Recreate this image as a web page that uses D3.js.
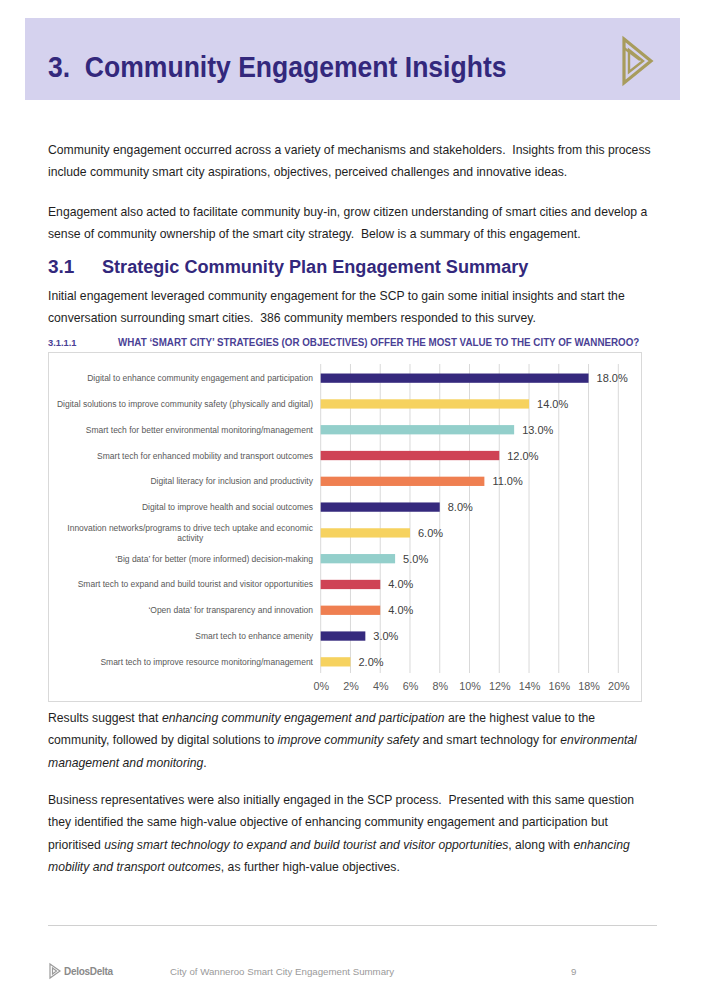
<!DOCTYPE html>
<html><head><meta charset="utf-8">
<script src="https://cdn.jsdelivr.net/npm/d3@7/dist/d3.min.js"></script>
<style>
html,body{margin:0;padding:0;background:#fff;}
svg text{white-space:pre;}
</style></head>
<body>
<svg id="page" width="705" height="1005"></svg>
<script>
// ---- data ----
const categories = [
  "Digital to enhance community engagement and participation",
  "Digital solutions to improve community safety (physically and digital)",
  "Smart tech for better environmental monitoring/management",
  "Smart tech for enhanced mobility and transport outcomes",
  "Digital literacy for inclusion and productivity",
  "Digital to improve health and social outcomes",
  "Innovation networks/programs to drive tech uptake and economic\nactivity",
  "\u2018Big data\u2019 for better (more informed) decision-making",
  "Smart tech to expand and build tourist and visitor opportunities",
  "\u2018Open data\u2019 for transparency and innovation",
  "Smart tech to enhance amenity",
  "Smart tech to improve resource monitoring/management"
];
const values = [18, 14, 13, 12, 11, 8, 6, 5, 4, 4, 3, 2];
const tickValues = [0, 2, 4, 6, 8, 10, 12, 14, 16, 18, 20];

const palette = ["#35297d", "#f6d25f", "#93cfcb", "#cf4355", "#ef7f51"];

const svg = d3.select("#page");
const FONT = "'Liberation Sans', Arial, sans-serif";
const K = 0.953; // horizontal compression of the document font
function squeeze(sel, x0, k) {
  sel.attr("transform", `translate(${x0},0) scale(${k},1) translate(${-x0},0)`);
  return sel;
}

// ---- header ----
svg.append("rect").attr("x", 25).attr("y", 18).attr("width", 655).attr("height", 82).attr("fill", "#d5d2ee");
squeeze(svg.append("text").attr("x", 48).attr("y", 77)
  .attr("font-family", FONT)
  .attr("font-weight", "bold").attr("font-size", 29.5).attr("fill", "#33287c")
  .text("3.  Community Engagement Insights"), 48, 0.9);

// logo
const logo = svg.append("g").attr("fill", "none").attr("stroke", "#a89c5d").attr("stroke-width", 3.2).attr("stroke-linejoin", "miter");
logo.append("path").attr("d", "M624,39 L651,61 L624,83 Z");
logo.append("path").attr("d", "M629,50 L643,61 L629,72 Z").attr("stroke-width", 2.4);
logo.append("path").attr("d", "M624,48 L640,60").attr("stroke-width", 2.2);

// ---- paragraphs ----
function para(lines, y0, lh) {
  lines.forEach((segs, i) => {
    const t = svg.append("text").attr("x", 48).attr("y", y0 + i * lh)
      .attr("font-family", FONT).attr("font-size", 12.8).attr("fill", "#1e1e1e");
    squeeze(t, 48, K);
    if (typeof segs === "string") segs = [[segs, false]];
    segs.forEach(([s, it]) => {
      t.append("tspan").attr("font-style", it ? "italic" : "normal").text(s);
    });
  });
}
para([
  "Community engagement occurred across a variety of mechanisms and stakeholders.  Insights from this process",
  "include community smart city aspirations, objectives, perceived challenges and innovative ideas."
], 154, 22.5);
para([
  "Engagement also acted to facilitate community buy-in, grow citizen understanding of smart cities and develop a",
  "sense of community ownership of the smart city strategy.  Below is a summary of this engagement."
], 216, 22.5);

svg.append("text").attr("x", 48).attr("y", 273).attr("font-family", FONT).attr("font-weight", "bold")
  .attr("font-size", 19).attr("fill", "#33287c").text("3.1");
squeeze(svg.append("text").attr("x", 102).attr("y", 273).attr("font-family", FONT).attr("font-weight", "bold")
  .attr("font-size", 19).attr("fill", "#33287c").text("Strategic Community Plan Engagement Summary"), 102, K);

para([
  "Initial engagement leveraged community engagement for the SCP to gain some initial insights and start the",
  "conversation surrounding smart cities.  386 community members responded to this survey."
], 300, 22.5);

squeeze(svg.append("text").attr("x", 48).attr("y", 346).attr("font-family", FONT).attr("font-weight", "bold")
  .attr("font-size", 9.8).attr("fill", "#4a3f95").text("3.1.1.1"), 48, K);
squeeze(svg.append("text").attr("x", 118).attr("y", 346).attr("font-family", FONT).attr("font-weight", "bold")
  .attr("font-size", 10.3).attr("fill", "#4a3f95").text("WHAT \u2018SMART CITY\u2019 STRATEGIES (OR OBJECTIVES) OFFER THE MOST VALUE TO THE CITY OF WANNEROO?"), 118, K);

// ---- chart ----
svg.append("rect").attr("x", 48.5).attr("y", 352.5).attr("width", 593).attr("height", 349)
  .attr("fill", "#fff").attr("stroke", "#d9d9d9").attr("stroke-width", 1);

const x = d3.scaleLinear().domain([0, 20]).range([320.7, 618.3]);
const y = d3.scaleBand().domain(categories).range([365, 675]).paddingInner(0.64).paddingOuter(0.33);

const chart = svg.append("g");
chart.append("g").selectAll("line").data(tickValues).join("line")
  .attr("x1", d => x(d)).attr("x2", d => x(d)).attr("y1", 364).attr("y2", 673)
  .attr("stroke", "#d9d9d9").attr("stroke-width", 1);

chart.append("g").selectAll("rect").data(categories).join("rect")
  .attr("x", x(0)).attr("y", d => y(d)).attr("height", y.bandwidth())
  .attr("width", (d, i) => x(values[i]) - x(0))
  .attr("fill", (d, i) => palette[i % palette.length]);

chart.append("g").selectAll("text").data(categories).join("text")
  .attr("x", (d, i) => x(values[i]) + 8).attr("y", d => y(d) + y.bandwidth() / 2 + 4)
  .attr("font-family", FONT).attr("font-size", 11).attr("fill", "#404040")
  .text((d, i) => values[i].toFixed(1) + "%");

// category labels
const labelG = chart.append("g").attr("font-family", FONT).attr("font-size", 8.5).attr("fill", "#595959");
categories.forEach(c => {
  const lines = c.split("\n");
  const cy = y(c) + y.bandwidth() / 2;
  if (lines.length === 1) {
    labelG.append("text").attr("x", 313).attr("y", cy + 3).attr("text-anchor", "end").text(c);
  } else {
    const t1 = labelG.append("text").attr("x", 313).attr("y", cy - 2).attr("text-anchor", "end").text(lines[0]);
    const w = t1.node().getComputedTextLength();
    labelG.append("text").attr("x", 313 - w / 2).attr("y", cy + 8).attr("text-anchor", "middle").text(lines[1]);
  }
});

const axis = d3.axisBottom(x).tickValues(tickValues).tickFormat(d => d + "%").tickSize(0).tickPadding(0);
const ag = chart.append("g").attr("transform", "translate(0,682)").call(axis);
ag.select(".domain").remove();
ag.selectAll("text").attr("font-family", FONT).attr("font-size", 10.8).attr("fill", "#595959").attr("dy", "0.71em");

// ---- paragraphs after chart ----
para([
  [["Results suggest that ", false], ["enhancing community engagement and participation", true], [" are the highest value to the", false]],
  [["community, followed by digital solutions to ", false], ["improve community safety", true], [" and smart technology for ", false], ["environmental", true]],
  [["management and monitoring", true], [".", false]]
], 722, 22.5);
para([
  "Business representatives were also initially engaged in the SCP process.  Presented with this same question",
  "they identified the same high-value objective of enhancing community engagement and participation but",
  [["prioritised ", false], ["using smart technology to expand and build tourist and visitor opportunities", true], [", along with ", false], ["enhancing", true]],
  [["mobility and transport outcomes", true], [", as further high-value objectives.", false]]
], 804, 22.5);

// ---- footer ----
svg.append("line").attr("x1", 48).attr("x2", 657).attr("y1", 925.5).attr("y2", 925.5).attr("stroke", "#d0d0d0").attr("stroke-width", 1.2);
const fl = svg.append("g").attr("fill", "none").attr("stroke", "#9a9a9a").attr("stroke-width", 1.2);
fl.append("path").attr("d", "M50,964 L60,971 L50,978 Z");
fl.append("path").attr("d", "M52.5,968 L56.5,971 L52.5,974 Z");
svg.append("text").attr("x", 64).attr("y", 974.5).attr("font-family", FONT).attr("font-weight", "bold")
  .attr("font-size", 10).attr("fill", "#8a8a8a").attr("letter-spacing", -0.3).text("DelosDelta");
svg.append("text").attr("x", 170).attr("y", 974.5).attr("font-family", FONT)
  .attr("font-size", 9.7).attr("fill", "#9a9a9a").text("City of Wanneroo Smart City Engagement Summary");
svg.append("text").attr("x", 571).attr("y", 974.5).attr("font-family", FONT)
  .attr("font-size", 9.7).attr("fill", "#9a9a9a").text("9");
</script>
</body></html>
